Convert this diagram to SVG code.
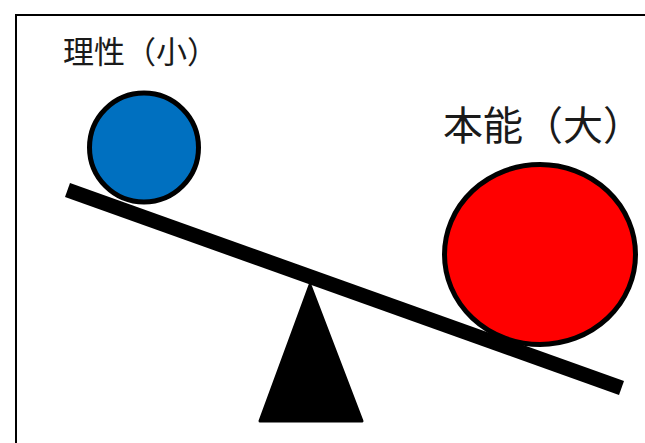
<svg xmlns="http://www.w3.org/2000/svg" width="645" height="443" viewBox="0 0 645 443">
<style>
.lbl{font-family:"Noto Sans CJK JP","Noto Sans CJK SC",sans-serif;fill:#1a1a1a}
.ball{stroke:#000;stroke-width:5}
</style>
<rect x="0" y="0" width="645" height="443" fill="#fff"/>
<g id="frame" stroke="#000" stroke-width="2" fill="none">
<line x1="16" y1="15" x2="645" y2="15"/>
<line x1="16" y1="14" x2="16" y2="443"/>
</g>
<g id="fulcrum">
<polygon points="310,285 362,421 260,421" fill="#000" stroke="#000" stroke-width="3" stroke-linejoin="round"/>
</g>
<g id="beam">
<polygon points="70,183 624,381 619,395 65,197" fill="#000"/>
</g>
<g id="reason">
<circle class="ball" cx="144" cy="147.5" r="54.5" fill="#0070C0"/>
<text class="lbl" x="63" y="63" font-size="31">理性（小）</text>
</g>
<g id="instinct">
<ellipse class="ball" cx="540" cy="254.5" rx="95.5" ry="90" fill="#FF0000"/>
<text class="lbl" x="443" y="140" font-size="40">本能（大）</text>
</g>
<g id="connectors"/>
</svg>
